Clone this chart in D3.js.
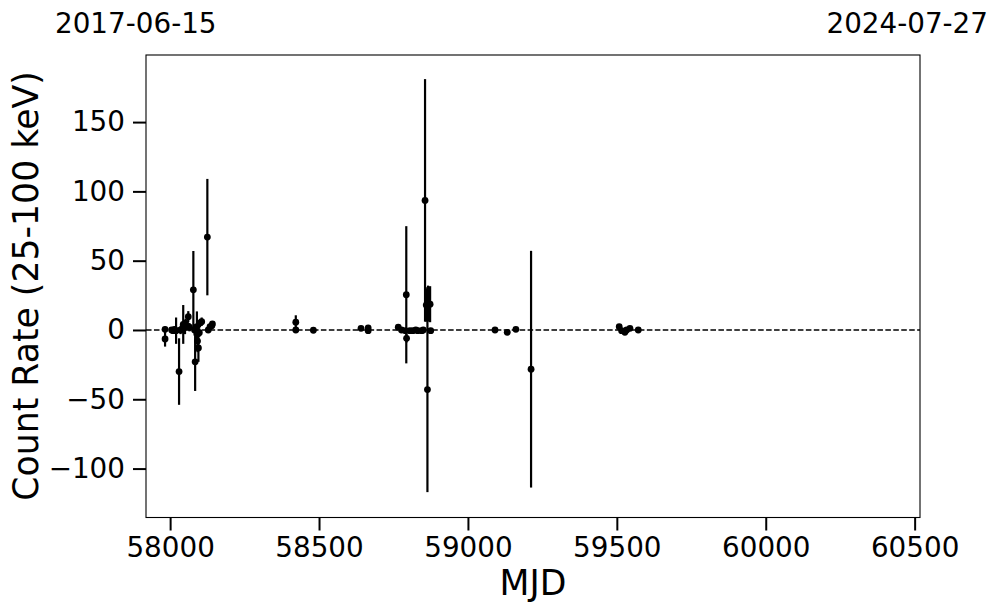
<!DOCTYPE html>
<html><head><meta charset="utf-8">
<script src="https://cdn.jsdelivr.net/npm/d3@7"></script>
<style>body{margin:0;background:#fff}svg{display:block}</style>
</head><body>
<svg id="c" width="997" height="613"></svg>
<script>
const mjd  = [57983,57983,58005,58010,58015,58020,58030,58035,58044,58050,58052,58061,58065,58078,58082,58084,58090,58092,58095,58098,58100,58106,58125,58128,58134,58140,58142,
              58422,58422,58481,58641,58665,58665,
              58766,58777,58790,58793,58794,58805,58815,58825,58832,58845,58850,58856,58860,58864,58866,58873,58875,
              59091,59132,59161,59212,
              59508,59516,59527,59533,59544,59572];
const rate = [0.5,-6.5,0,-0.5,0.5,-0.5,-30,0,4,2,5,9.6,2,29,0,-23,2.4,-8,-13,-2,5,6,67,0,2.4,3,4.3,
              0,5.6,-0.2,1.2,1.5,-0.5,
              2,0,-0.5,25.4,-6,-0.5,-0.5,0,-0.5,-0.5,0,93.5,18,-43,19,18.6,-0.5,
              0,-1.7,0.5,-28.3,
              2.4,-0.5,-1.7,0,1.2,0];
const err  = [2,5.5,2,2,2,9.5,24,3,14,5,3,4,3,28,4,21,11,8,10,3,3,3,42,2,2,2,2,
              1,5,1,1,1,1,
              1,1,1,49.5,3,1,1,1,1,1,1,87.5,12,74,13,13,1,
              1,1,1,85.4,
              1,1,1,1,1,1];
const xTicks = [58000,58500,59000,59500,60000,60500];
const yTicks = [-100,-50,0,50,100,150];
const xDomain = [57919,60518];
const yDomain = [-135.3,198.4];
const dateLeft = "2017-06-15", dateRight = "2024-07-27";

const svg = d3.select("#c");
const L=146,R=920,T=55,B=517.5;
const x = d3.scaleLinear().domain(xDomain).range([L,R]);
const y = d3.scaleLinear().domain(yDomain).range([B,T]);
const font = "DejaVu Sans";

// zero line
svg.append("line").attr("x1",L).attr("x2",R).attr("y1",y(0)).attr("y2",y(0))
  .attr("stroke","#000").attr("stroke-width",1.5).attr("stroke-dasharray","5.55,2.4");

const data = mjd.map((m,i)=>({m, v:rate[i], e:err[i]}));
const g = svg.append("g");
g.selectAll("line.eb").data(data).join("line").attr("class","eb")
  .attr("x1",d=>x(d.m)).attr("x2",d=>x(d.m))
  .attr("y1",d=>y(d.v-d.e)).attr("y2",d=>y(d.v+d.e))
  .attr("stroke","#000").attr("stroke-width",2.2);
g.selectAll("circle").data(data).join("circle")
  .attr("cx",d=>x(d.m)).attr("cy",d=>y(d.v)).attr("r",3.4).attr("fill","#000");

// frame
svg.append("rect").attr("x",L).attr("y",T).attr("width",R-L).attr("height",B-T)
  .attr("fill","none").attr("stroke","#000").attr("stroke-width",1.1);

const xa = svg.append("g").attr("transform",`translate(0,${B})`)
  .call(d3.axisBottom(x).tickValues(xTicks).tickSize(13).tickPadding(6.5).tickFormat(d3.format("d")));
const ya = svg.append("g").attr("transform",`translate(${L},0)`)
  .call(d3.axisLeft(y).tickValues(yTicks).tickSize(13).tickPadding(8).tickFormat(d3.format("d")));
[xa,ya].forEach(a=>{
  a.select(".domain").remove();
  a.selectAll(".tick line").attr("stroke","#000").attr("stroke-width",2);
  a.selectAll(".tick text").attr("fill","#000").style("font-family",font).style("font-size","27.8px");
});

svg.append("text").attr("x",533).attr("y",595).attr("text-anchor","middle")
  .style("font-family",font).style("font-size","34.7px").text("MJD");
svg.append("text").attr("transform","translate(37.5,286) rotate(-90)").attr("text-anchor","middle")
  .style("font-family",font).style("font-size","34.7px").text("Count Rate (25-100 keV)");
svg.append("text").attr("x",55).attr("y",32.5).attr("text-anchor","start")
  .style("font-family",font).style("font-size","27.8px").text(dateLeft);
svg.append("text").attr("x",988).attr("y",32.5).attr("text-anchor","end")
  .style("font-family",font).style("font-size","27.8px").text(dateRight);
</script>
</body></html>
